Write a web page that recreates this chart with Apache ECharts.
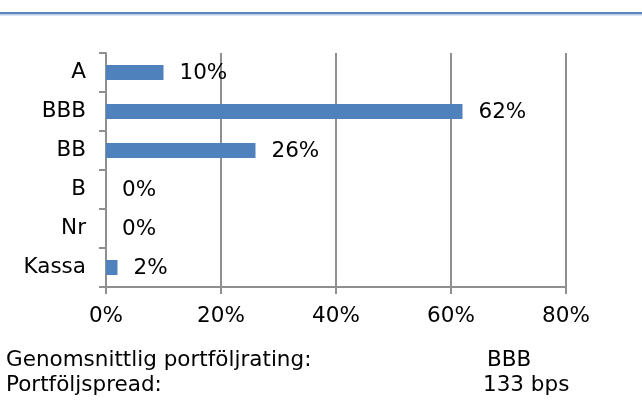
<!DOCTYPE html>
<html>
<head>
<meta charset="utf-8">
<script src="https://cdn.jsdelivr.net/npm/echarts@6/dist/echarts.min.js"></script>
<style>
html,body{margin:0;padding:0;background:#fff;}
#chart{width:642px;height:403px;}
</style>
</head>
<body>
<div id="chart"></div>
<script>
var categories = ['A', 'BBB', 'BB', 'B', 'Nr', 'Kassa'];
var shares = [10, 62, 26, 0, 0, 2];
var xTicks = [0, 20, 40, 60, 80];
var summaryNames = ['Genomsnittlig portföljrating:', 'Portföljspread:'];
var summaryValues = ['BBB', '133 bps'];

var barColor = '#4f81bd';
var gridColor = '#8f8f8f';
var fontFam = '"DejaVu Sans", Verdana, sans-serif';
var fSize = 21.5;

var chart = echarts.init(document.getElementById('chart'));

var footer = [];
for (var i = 0; i < summaryNames.length; i++) {
    footer.push({
        type: 'text', left: 6, top: 349 + i * 25,
        style: { text: summaryNames[i], font: fSize + 'px ' + fontFam, fill: '#000' }
    });
    footer.push({
        type: 'text', left: i == 0 ? 487 : 483, top: 349 + i * 25,
        style: { text: summaryValues[i], font: fSize + 'px ' + fontFam, fill: '#000' }
    });
}

var option = {
    animation: false,
    backgroundColor: '#fff',
    grid: { left: 106, top: 53, width: 460, height: 234 },
    xAxis: {
        type: 'value',
        min: xTicks[0],
        max: xTicks[xTicks.length - 1],
        interval: 20,
        axisLine: { show: true, lineStyle: { color: gridColor, width: 2 } },
        axisTick: { show: true, length: 7, lineStyle: { color: gridColor, width: 2 } },
        splitLine: { show: true, lineStyle: { color: gridColor, width: 2 } },
        axisLabel: {
            margin: 18,
            color: '#000',
            fontSize: fSize,
            fontFamily: fontFam,
            formatter: '{value}%'
        }
    },
    yAxis: {
        type: 'category',
        inverse: true,
        data: categories,
        axisLine: { show: true, lineStyle: { color: gridColor, width: 2 } },
        axisTick: { show: true, length: 7, lineStyle: { color: gridColor, width: 2 } },
        axisLabel: { margin: 20, color: '#000', fontSize: fSize, fontFamily: fontFam }
    },
    series: [{
        type: 'bar',
        data: shares,
        barWidth: 15,
        itemStyle: { color: barColor },
        label: {
            show: true,
            position: 'right',
            distance: 16,
            offset: [0, 1],
            color: '#000',
            fontSize: fSize,
            fontFamily: fontFam,
            formatter: '{c}%'
        }
    }],
    graphic: [
        { type: 'rect', shape: { x: 0, y: 12, width: 642, height: 2 }, style: { fill: '#5b87c0' } },
        { type: 'rect', shape: { x: 0, y: 14, width: 642, height: 1.5 }, style: { fill: '#b9cde7' } }
    ].concat(footer)
};

chart.setOption(option);
window.onresize = chart.resize;
</script>
</body>
</html>
